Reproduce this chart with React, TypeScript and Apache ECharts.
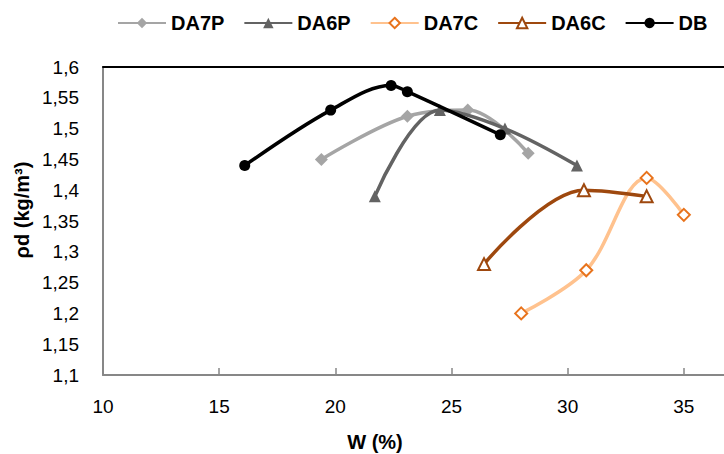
import React, { useEffect, useRef } from "react";
import * as echarts from "echarts";

const seriesNames = ["DA7P", "DA6P", "DA7C", "DA6C", "DB"];

const DA7P_W = [19.4, 23.1, 25.7, 28.3];
const DA7P_D = [1.45, 1.52, 1.53, 1.46];

const DA6P_W = [21.7, 24.5, 27.3, 30.4];
const DA6P_D = [1.39, 1.53, 1.5, 1.44];

const DA7C_W = [28.0, 30.8, 33.4, 35.0];
const DA7C_D = [1.2, 1.27, 1.42, 1.36];

const DA6C_W = [26.4, 30.7, 33.4];
const DA6C_D = [1.28, 1.4, 1.39];

const DB_W = [16.1, 19.8, 22.4, 23.1, 27.1];
const DB_D = [1.44, 1.53, 1.57, 1.56, 1.49];

const xTitle = "W (%)";
const yTitle = "ρd (kg/m³)";

const pairs = (xs: number[], ys: number[]) => xs.map((x, i) => [x, ys[i]]);

export default function App() {
  const ref = useRef<HTMLDivElement>(null);
  useEffect(() => {
    if (!ref.current) return;
    const chart = echarts.init(ref.current, null, { renderer: "svg" });
    const font = "'Liberation Sans', Arial, sans-serif";
    const mk = (
      name: string,
      data: number[][],
      line: string,
      symbol: string,
      fill: string,
      border: string,
      size: number,
      z: number
    ) => ({
      name,
      type: "line",
      data,
      smooth: 0.35,
      symbol,
      symbolSize: size,
      z,
      lineStyle: { color: line, width: 3.5 },
      itemStyle: { color: fill, borderColor: border, borderWidth: fill === "#ffffff" ? 2 : 0 },
      emphasis: { disabled: true },
    });
    chart.setOption({
      animation: false,
      textStyle: { fontFamily: font },
      legend: {
        left: 112,
        top: 8,
        itemWidth: 48,
        itemHeight: 13,
        itemGap: 19,
        data: seriesNames,
        textStyle: { fontSize: 20, fontWeight: "bold", color: "#000", fontFamily: font },
      },
      grid: { left: 103, top: 67, width: 697, height: 308, containLabel: false },
      xAxis: [
        {
          type: "value",
          min: 10,
          max: 40,
          interval: 5,
          axisLine: { show: true, lineStyle: { color: "#878787", width: 2 } },
          axisTick: { show: true, inside: true, length: 7, lineStyle: { color: "#878787", width: 1.5 } },
          axisLabel: { margin: 22, fontSize: 19, color: "#000", fontFamily: font, showMaxLabel: false },
          splitLine: { show: false },
        },
        {
          type: "value",
          position: "top",
          min: 10,
          max: 40,
          interval: 5,
          axisLine: { show: true, lineStyle: { color: "#000", width: 2 } },
          axisTick: { show: false },
          axisLabel: { show: false },
          splitLine: { show: false },
        },
      ],
      yAxis: {
        type: "value",
        min: 1.1,
        max: 1.6,
        interval: 0.05,
        axisLine: { show: true, lineStyle: { color: "#878787", width: 2 } },
        axisTick: { show: false },
        axisLabel: {
          margin: 24,
          fontSize: 19,
          color: "#000",
          fontFamily: font,
          formatter: (v: number) => String(parseFloat(v.toFixed(2))).replace(".", ","),
        },
        splitLine: { show: false },
      },
      graphic: [
        {
          type: "text",
          x: 375,
          y: 442,
          style: {
            text: xTitle,
            fontSize: 20,
            fontWeight: "bold",
            fontFamily: font,
            fill: "#000",
            align: "center",
            verticalAlign: "middle",
          },
        },
        {
          type: "text",
          x: 21.5,
          y: 210,
          rotation: Math.PI / 2,
          style: {
            text: yTitle,
            fontSize: 20,
            fontWeight: "bold",
            fontFamily: font,
            fill: "#000",
            align: "center",
            verticalAlign: "middle",
          },
        },
      ],
      series: [
        mk("DA7P", pairs(DA7P_W, DA7P_D), "#A5A5A5", "diamond", "#A5A5A5", "#A5A5A5", 13, 2),
        mk("DA6P", pairs(DA6P_W, DA6P_D), "#636363", "triangle", "#636363", "#636363", 12, 3),
        mk("DA7C", pairs(DA7C_W, DA7C_D), "#FFC28E", "diamond", "#ffffff", "#E8731C", 12, 2),
        mk("DA6C", pairs(DA6C_W, DA6C_D), "#9E480E", "triangle", "#ffffff", "#9E480E", 12, 3),
        mk("DB", pairs(DB_W, DB_D), "#000000", "circle", "#000000", "#000000", 11, 4),
      ],
    });
    return () => chart.dispose();
  }, []);
  return (
    <div style={{ position: "absolute", left: 0, top: 0, width: 724, height: 454, overflow: "hidden", background: "#fff" }}>
      <div ref={ref} style={{ width: 820, height: 454 }} />
    </div>
  );
}
